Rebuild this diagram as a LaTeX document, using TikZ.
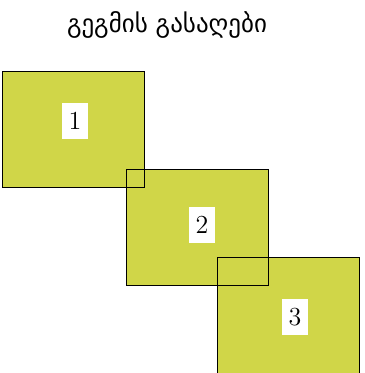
\documentclass[tikz,border=0pt]{standalone}
\usepackage{fontspec}
\newfontfamily\geofont{DejaVu Sans}
\usetikzlibrary{positioning}
\definecolor{planfill}{RGB}{208,214,72}

\begin{document}
\begin{tikzpicture}[
  x=0.5pt, y=-0.5pt,
  % one key square per plan sheet; outlines go on afterwards so they stay on top
  sheet/.style={fill=planfill, minimum width=71pt, minimum height=58pt,
    inner sep=0pt, outer sep=0pt},
  outline/.style={draw=black, line width=0.5pt},
  tag/.style={fill=white, minimum width=13pt, minimum height=18pt,
    inner sep=0pt, font=\fontsize{13}{15}\selectfont}
]
\useasboundingbox (0,0) rectangle (364,373);
\node[font=\geofont\fontsize{12.5}{14}\selectfont] (title) at (167,25) {გეგმის გასაღები};
\node[sheet] (p1) at (73,130) {};
\node[sheet] (p2) at (197.5,227.5) {};
\node[sheet] (p3) at (288,315) {};
\foreach \p in {p1,p2,p3}
  \draw[outline] (\p.north west) rectangle (\p.south east);
\node[tag] (t1) at (75,121) {1};
\node[tag] (t2) at (202,225) {2};
\node[tag] (t3) at (295,317) {3};
\end{tikzpicture}
\end{document}
